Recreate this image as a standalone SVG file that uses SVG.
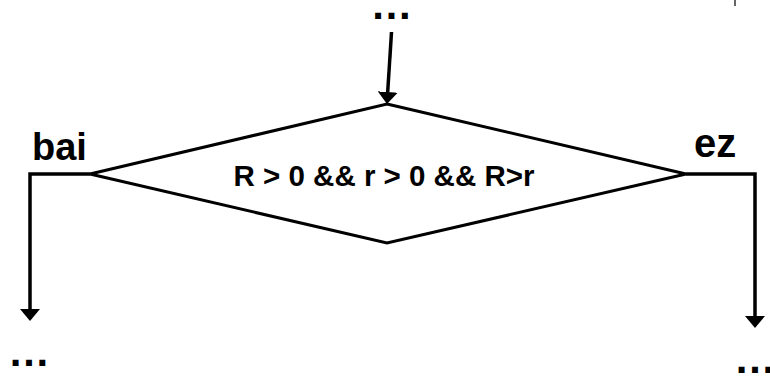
<svg xmlns="http://www.w3.org/2000/svg" width="770" height="376" viewBox="0 0 770 376">
  <style>
    .t { font-family: "Liberation Sans", Arial, sans-serif; font-weight: bold; fill: #000; }
    .c { fill: none; stroke: #000; stroke-width: 3.5; stroke-linejoin: miter; }
  </style>
  <defs>
    <marker id="arr" viewBox="0 0 12 20" refX="0" refY="10" markerWidth="12" markerHeight="20" markerUnits="userSpaceOnUse" orient="auto">
      <path d="M0,0 L12,10 L0,20 z" fill="#000"/>
    </marker>
  </defs>
  <rect width="770" height="376" fill="#fff"/>
  <line x1="735" y1="0" x2="735" y2="6" stroke="#333" stroke-width="1.5"/>
  <g id="decision">
    <polygon points="387,104 686,174 387,243 90,174" fill="#fff" stroke="#000" stroke-width="3"/>
    <text class="t" x="384" y="186" font-size="29.5" text-anchor="middle">R &gt; 0 &amp;&amp; r &gt; 0 &amp;&amp; R&gt;r</text>
  </g>
  <g id="top-dots"><text class="t" x="391.5" y="19" font-size="42" text-anchor="middle">…</text></g>
  <g id="left-dots"><text class="t" x="29" y="366" font-size="42" text-anchor="middle">…</text></g>
  <g id="right-dots"><text class="t" x="755" y="373" font-size="42" text-anchor="middle">…</text></g>
  <g id="connectors">
    <line class="c" x1="391.5" y1="32" x2="387.7" y2="92" marker-end="url(#arr)"/>
    <path class="c" d="M90,174 H30 V309" marker-end="url(#arr)"/>
    <path class="c" d="M686,174 H755 V316" marker-end="url(#arr)"/>
    <text class="t" x="32" y="160" font-size="38">bai</text>
    <text class="t" x="694" y="157" font-size="40">ez</text>
  </g>
</svg>
